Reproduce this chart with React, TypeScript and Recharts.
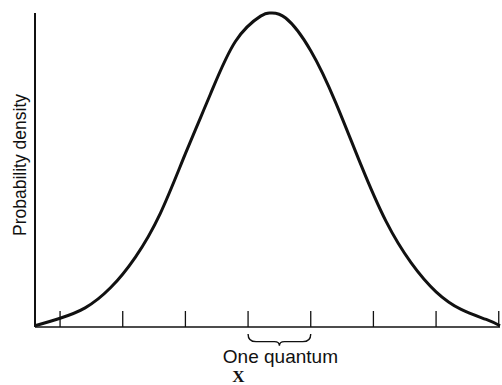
import { LineChart, Line, XAxis, YAxis, ReferenceArea } from 'recharts'

// position along X in quanta (origin at the y axis) and the relative density there
const positions = [0, 0.4, 0.8, 1.2, 1.6, 2.0, 2.4, 2.8, 3.2, 3.6, 3.76, 4.0, 4.4, 4.8, 5.2, 5.6, 6.0, 6.4, 6.8, 7.2, 7.42]
const density = [0.004, 0.028, 0.061, 0.124, 0.222, 0.362, 0.552, 0.742, 0.91, 0.99, 1.0, 0.984, 0.88, 0.714, 0.517, 0.337, 0.205, 0.112, 0.056, 0.024, 0.004]

// tick marks on the X axis, one quantum apart
const tickMarks = [0.4, 1.4, 2.4, 3.4, 4.4, 5.4, 6.4, 7.4]

// the interval marked with a brace
const quantumStart = 3.4
const quantumEnd = 4.4
const quantumLabel = 'One quantum'

const curve = positions.map((x, i) => ({ x, density: density[i] }))

const INK = '#111'

const UpTick = (props: any) => {
  const { x, y } = props
  return <line x1={x} x2={x} y1={y} y2={y - 16} stroke={INK} strokeWidth={1.3} />
}

const QuantumBrace = (props: any) => {
  const { x, y, width, height } = props
  const cx = x + width / 2
  const top = y
  const bottom = y + height
  const mid = top + height * 0.65
  const d = `M${x},${top} Q${x},${mid} ${x + 8},${mid} L${cx - 5},${mid} Q${cx},${mid} ${cx},${bottom} ` +
    `Q${cx},${mid} ${cx + 5},${mid} L${x + width - 8},${mid} Q${x + width},${mid} ${x + width},${top}`
  return (
    <g>
      <path d={d} fill="none" stroke={INK} strokeWidth={1.4} />
      <text x={cx + 1} y={bottom + 17} textAnchor="middle" fontFamily="Liberation Sans, Arial, sans-serif" fontSize={19} fill={INK}>
        {quantumLabel}
      </text>
    </g>
  )
}

const YLabel = (props: any) => {
  const { viewBox } = props
  const cx = viewBox.x + 20
  const cy = viewBox.y + viewBox.height / 2 - 5
  return (
    <text x={cx} y={cy} transform={`rotate(-90, ${cx}, ${cy})`} textAnchor="middle" dominantBaseline="central"
      fontFamily="Liberation Sans, Arial, sans-serif" fontSize={17.5} fill={INK}>
      Probability density
    </text>
  )
}

const XLabel = (props: any) => {
  const { viewBox } = props
  return (
    <text x={viewBox.x + viewBox.width / 2 - 29} y={viewBox.y + viewBox.height - 3} textAnchor="middle"
      fontFamily="Liberation Serif, Times New Roman, serif" fontWeight="bold" fontSize={17} fill={INK}>
      X
    </text>
  )
}

export default function App() {
  return (
    <div style={{ width: 502, height: 385, background: '#fff' }}>
      <style>{'body { margin: 0; }'}</style>
      <LineChart width={502} height={385} data={curve} margin={{ top: 13, right: 2, bottom: 0, left: 0 }}>
        <XAxis
          type="number"
          dataKey="x"
          domain={[0, 7.42]}
          ticks={tickMarks}
          interval={0}
          tickLine={false}
          tickSize={0}
          tickMargin={0}
          tick={UpTick}
          axisLine={{ stroke: INK, strokeWidth: 1.5 }}
          height={58}
          label={XLabel}
        />
        <YAxis
          type="number"
          domain={[0, 1]}
          width={35}
          tick={false}
          tickLine={false}
          axisLine={{ stroke: INK, strokeWidth: 2 }}
          label={YLabel}
        />
        <ReferenceArea
          x1={quantumStart}
          x2={quantumEnd}
          y1={-0.06}
          y2={-0.022}
          ifOverflow="visible"
          shape={QuantumBrace}
        />
        <Line
          type="natural"
          dataKey="density"
          stroke={INK}
          strokeWidth={3}
          dot={false}
          isAnimationActive={false}
        />
      </LineChart>
    </div>
  )
}
